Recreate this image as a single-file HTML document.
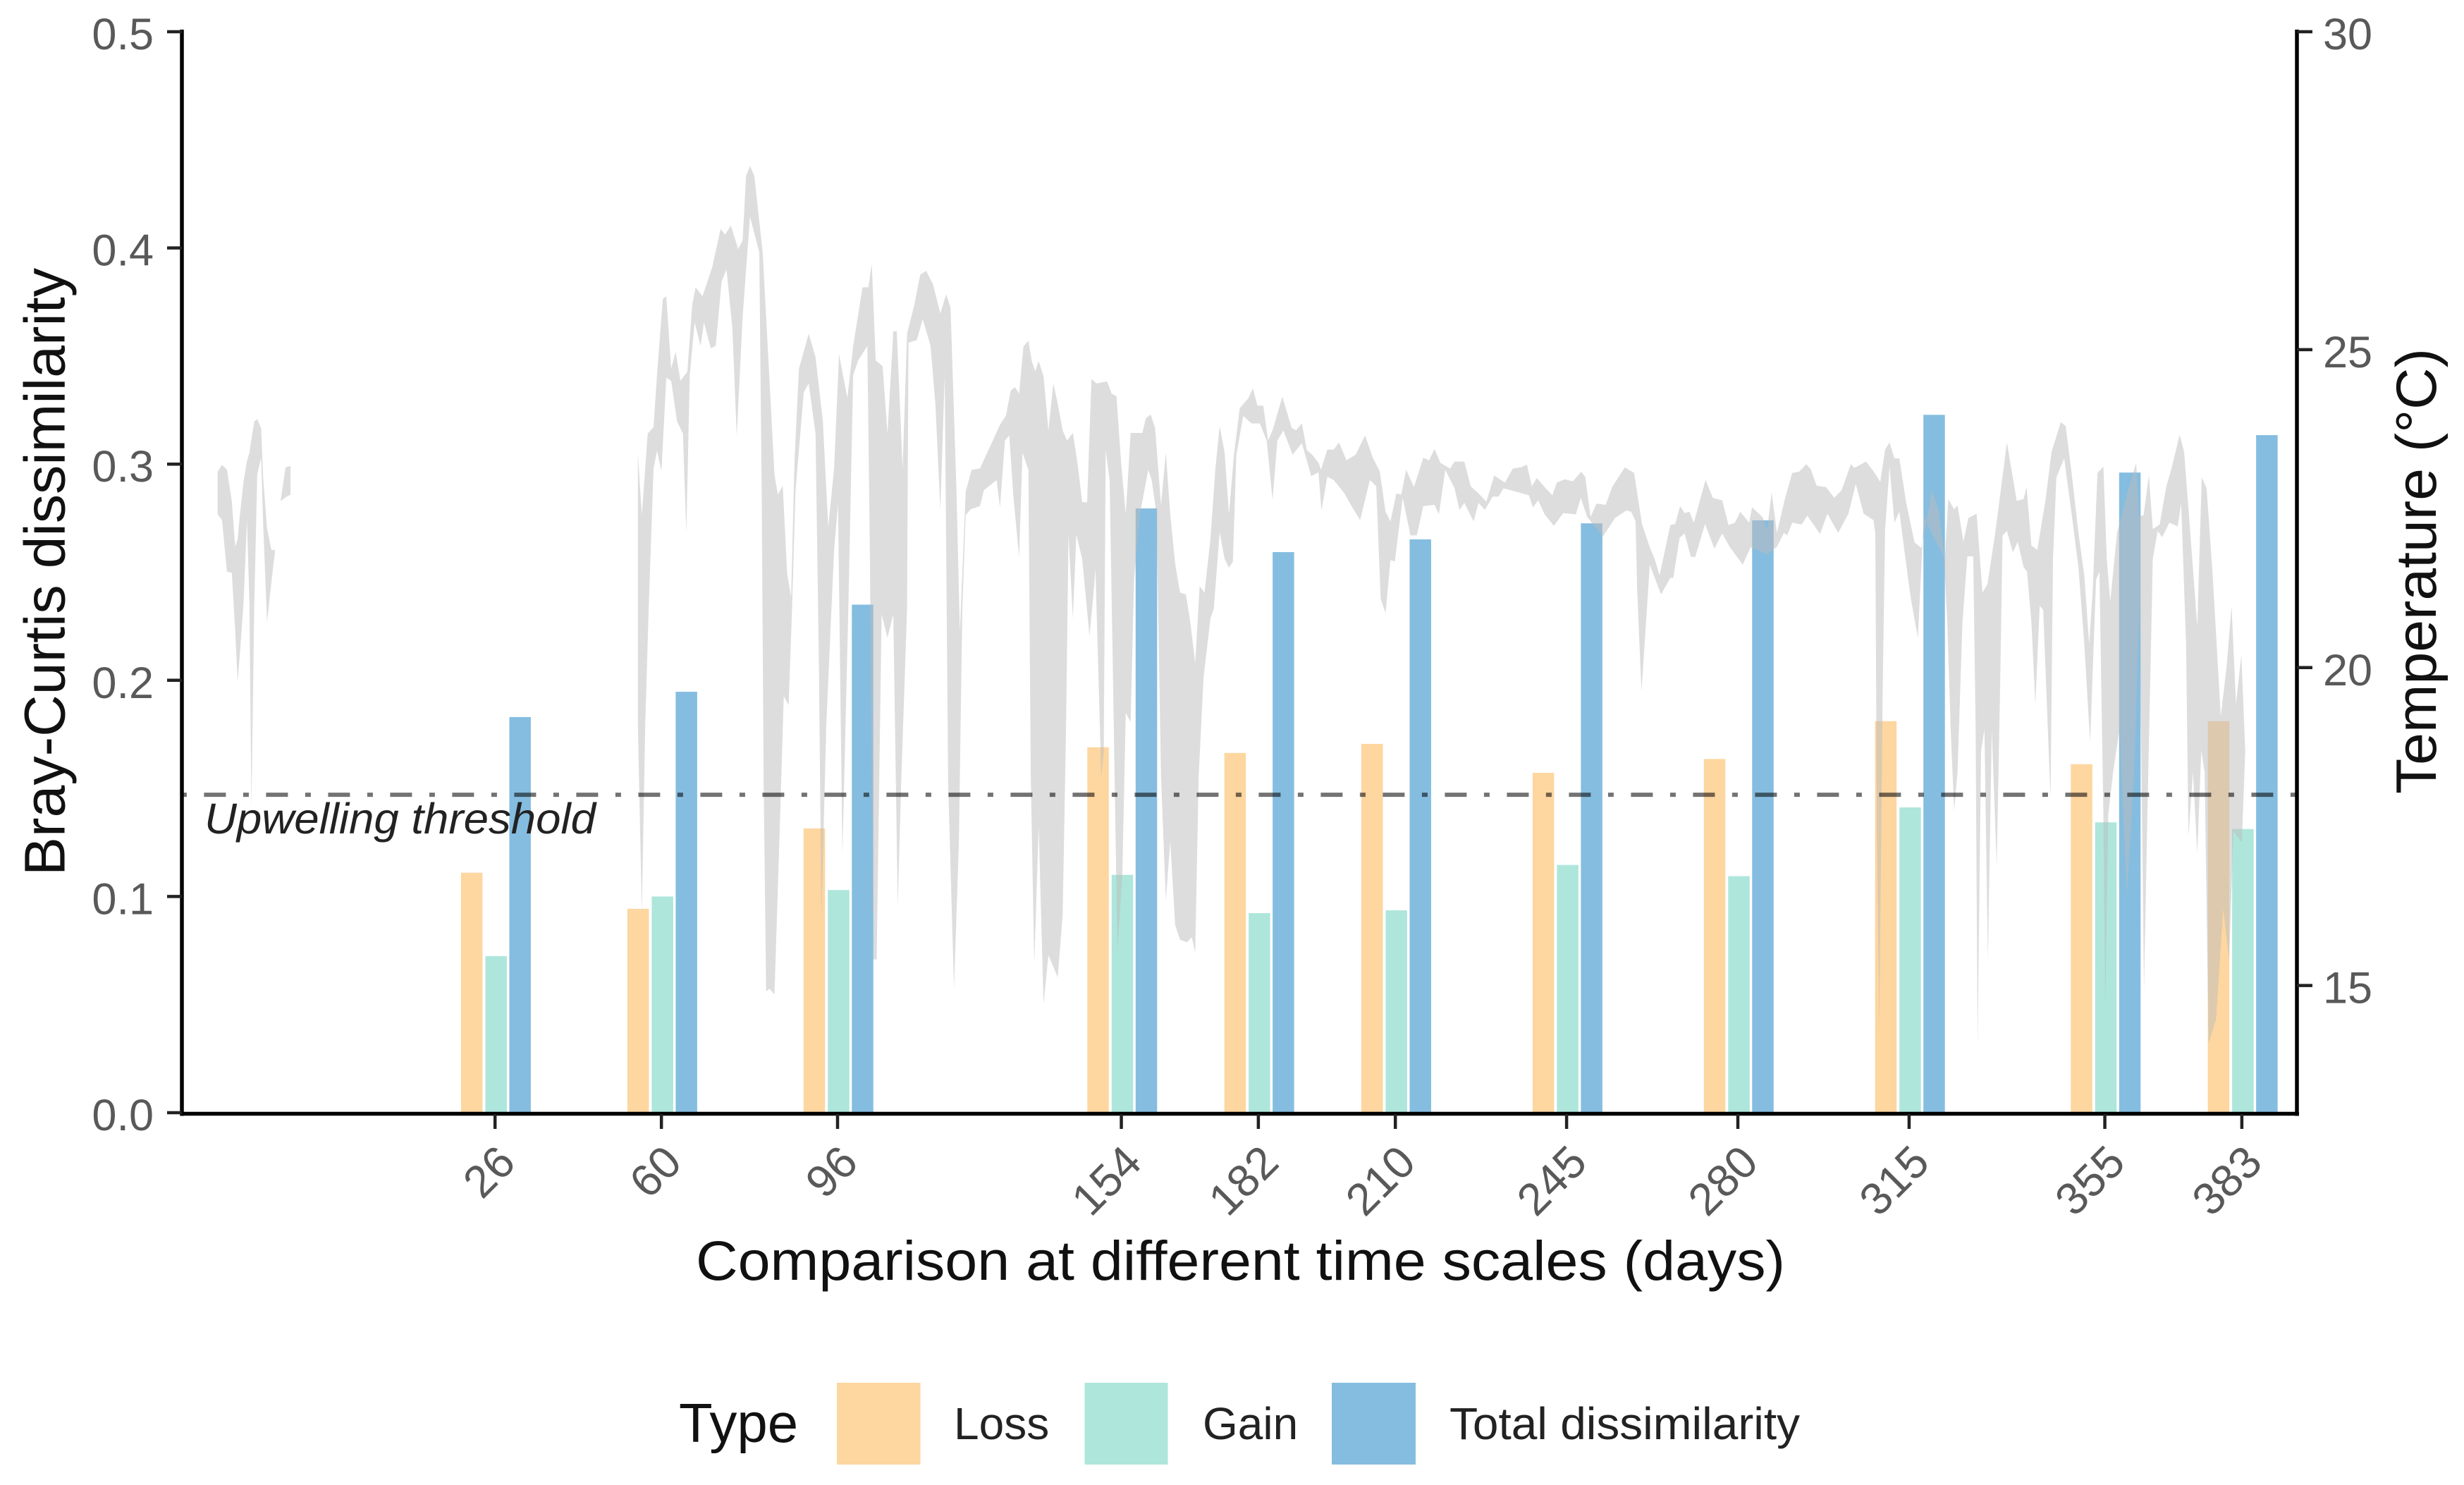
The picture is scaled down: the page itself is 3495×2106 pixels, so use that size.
<!DOCTYPE html>
<html lang="en">
<head>
<meta charset="utf-8">
<title>Bray-Curtis dissimilarity and temperature</title>
<style>
html,body{margin:0;padding:0;background:#fff;width:3495px;height:2106px;overflow:hidden}
svg{display:block;font-family:"Liberation Sans",Arial,sans-serif}
</style>
</head>
<body>
<svg id="chart" xmlns="http://www.w3.org/2000/svg" width="3495" height="2106" viewBox="0 0 3495 2106">
  <rect x="0" y="0" width="3495" height="2106" fill="#ffffff"/>
  <g id="bars"></g>
  <g id="ribbon"></g>
  <g id="threshold"></g>
  <g id="axes"></g>

  <text transform="translate(91.5,1242) rotate(-90)" font-size="82" fill="#111" textLength="862" lengthAdjust="spacingAndGlyphs">Bray-Curtis dissimilarity</text>
  <text transform="translate(3455,1126) rotate(-90)" font-size="81" fill="#111" textLength="632" lengthAdjust="spacingAndGlyphs">Temperature (°C)</text>
  <text x="987" y="1815" font-size="79" fill="#111" textLength="1545" lengthAdjust="spacingAndGlyphs">Comparison at different time scales (days)</text>
  <text x="290" y="1182" font-size="61" font-style="italic" fill="#222" textLength="555" lengthAdjust="spacingAndGlyphs">Upwelling threshold</text>

  <g>
    <text x="963" y="2045" font-size="78" fill="#111">Type</text>
    <rect x="1187" y="1961" width="118.5" height="116" fill="#fdd6a0"/>
    <text x="1353" y="2041" font-size="64" fill="#222">Loss</text>
    <rect x="1538.5" y="1961" width="118" height="116" fill="#aee6db"/>
    <text x="1706" y="2041" font-size="64" fill="#222">Gain</text>
    <rect x="1889" y="1961" width="119" height="116" fill="#85bde0"/>
    <text x="2056" y="2041" font-size="64" fill="#222" textLength="497" lengthAdjust="spacingAndGlyphs">Total dissimilarity</text>
  </g>
</svg>

<script>
// ---- bar data ----
const timeScales = [26,60,96,154,182,210,245,280,315,355,383];
const lossValues = [0.111,0.0943,0.1315,0.169,0.1664,0.1706,0.1572,0.1636,0.1811,0.1612,0.1811];
const gainValues = [0.0724,0.100,0.103,0.110,0.0923,0.0936,0.1146,0.1094,0.1412,0.1343,0.1312];
const totalValues = [0.183,0.1947,0.235,0.2795,0.2593,0.2652,0.2726,0.274,0.3228,0.2961,0.3134];

// ---- axis labels ----
const leftTicks = [0,0.1,0.2,0.3,0.4,0.5];
const leftTickLabels = ["0.0","0.1","0.2","0.3","0.4","0.5"];
const rightTicks = [15,20,25,30];
const rightTickLabels = ["15","20","25","30"];
const thresholdTemp = [18];

// ---- temperature ribbon: first fragment ----
const earlyHighDays = [-30.7,-29.8,-28.8,-27.8,-27.1,-26.6,-26.2,-25.4,-24.7,-24.2,-23.8,-23.2,-22.6,-21.8,-21.4,-20.6,-19.7,-19.0];
const earlyHighTemps = [23.08,23.19,23.11,22.62,21.90,22.02,22.36,22.92,23.25,23.38,23.59,23.87,23.91,23.76,23.00,22.19,21.85,21.85];
const earlyLowTemps = [22.41,22.32,21.51,21.49,20.58,19.78,20.16,21.01,22.32,21.01,17.78,21.01,23.04,23.30,22.28,20.71,21.35,21.81];

// ---- temperature ribbon: small fragment ----
const smallDays = [-17.8,-16.8,-15.8];
const smallHighTemps = [22.64,23.15,23.17];
const smallLowTemps = [22.62,22.68,22.72];

// ---- temperature ribbon: main stretch, upper edge ----
const highDaysA = [55.2,56.0,57.2,58.4,59.1,60.3,61.0,62.0,62.9,63.9,65.3,66.3,67.0,68.4,70.4,72.1,73.0,74.2,75.7,76.6,77.3,78.1,79.0,80.7,81.4,83.1,83.8,84.8,85.7,86.5,87.2,88.1,90.1,91.5,93.0,94.1,95.3,96.3,98.0,99.2,101.1,102.3,103.0,103.8,105.2,106.2,107.4,108.1,109.3,110.2,111.7,112.9,114.1,115.5,117.0,118.2,119.1,120.3,121.0,122.2,123.4,125.1];
const highTempsA = [23.36,22.40,23.68,23.78,24.60,25.80,25.84,24.70,24.97,24.51,24.65,25.71,25.98,25.84,26.30,26.90,26.81,26.95,26.58,26.72,27.73,27.89,27.73,26.53,25.52,23.04,22.72,22.86,21.48,21.11,23.23,24.70,25.25,24.88,23.87,22.21,23.13,24.93,24.24,25.06,25.98,25.98,26.35,24.83,24.74,23.68,25.29,25.29,23.13,25.25,25.71,26.18,26.24,26.03,25.57,25.87,25.66,22.77,20.56,22.77,23.11,23.13];
const highDaysB = [126.1,127.5,129.2,130.4,131.4,132.3,133.1,134.0,135.0,135.7,136.4,137.1,138.1,139.1,140.1,141.0,142.0,142.9,144.1,145.1,146.0,147.0,147.9,148.9,151.1,152.0,153.0,154.0,154.9,155.9,157.1,158.3,159.0,160.0,160.9,162.1,163.1,164.0,165.0,166.0,167.2,168.1,169.1,170.0,171.0,172.2,173.2,174.1,175.1,176.0,177.0,178.2,179.9,180.9,181.8,183.0,184.0,184.9,186.9,188.8,189.7,190.9,191.9,193.1,194.3];
const highTempsB = [23.30,23.53,23.82,23.96,24.36,24.41,24.31,25.05,25.14,24.82,24.66,24.82,24.58,23.73,24.47,24.15,23.73,23.57,23.69,23.18,22.60,22.60,24.54,24.47,24.50,24.31,24.27,23.18,22.41,23.69,23.69,23.69,23.92,23.98,23.77,22.56,23.38,22.41,21.63,21.18,21.15,20.71,20.07,21.28,21.18,22.02,23.11,23.80,23.38,22.41,23.34,24.08,24.23,24.39,24.12,24.12,23.57,23.73,24.26,23.77,23.73,23.84,23.42,23.34,23.22];
const highDaysC = [194.8,196.1,197.4,198.5,200.0,201.9,203.8,205.4,206.8,208.0,209.0,210.2,211.2,212.2,213.8,215.7,216.9,218.0,219.2,221.2,222.1,224.1,225.4,227.0,228.6,230.2,232.4,234.0,235.6,236.9,237.9,238.9,240.5,242.1,243.0,244.6,246.3,248.0,248.8,249.9,251.1,253.0,254.3,256.9,258.8,260.4,262.0,263.0,264.0,266.2,267.2,268.2,269.1,270.1,271.0,273.4,274.9,276.8,278.1,279.4,280.5,282.3,282.9,285.0];
const highTempsC = [23.11,23.43,23.43,23.54,23.26,23.35,23.65,23.30,23.09,22.45,22.30,22.74,22.72,23.11,22.84,23.30,23.26,23.44,23.22,23.13,23.24,23.24,22.85,22.74,22.61,23.02,22.91,23.13,23.15,23.19,22.85,22.98,22.84,22.71,22.91,22.96,22.93,23.08,23.00,22.37,22.58,22.56,22.84,23.15,23.06,22.26,21.89,21.71,21.45,22.24,22.26,22.54,22.43,22.45,22.28,22.95,22.67,22.63,22.24,22.28,22.45,22.28,22.52,22.37];
const highDaysD = [286.0,286.9,288.0,289.6,291.1,292.5,294.0,294.9,296.1,298.0,299.7,301.2,303.1,303.8,306.2,307.7,309.1,310.1,311.0,312.0,313.0,314.4,316.1,317.5,319.7,321.1,322.3,323.0,324.2,324.9,326.1,327.1,328.8,330.0,331.0,332.6,335.0,337.0,338.4,339.0];
const highTempsD = [22.18,22.75,22.12,22.65,23.06,23.08,23.20,23.12,22.86,22.84,22.67,22.79,23.20,23.14,23.24,23.09,22.92,23.43,23.54,23.29,23.29,22.59,21.97,21.88,22.79,22.45,21.71,22.65,22.49,22.55,21.98,22.35,22.42,21.18,21.31,22.12,23.54,22.62,22.65,22.84];
const highDaysE = [340.0,341.2,342.9,344.1,346.0,347.0,348.2,349.6,350.8,351.8,352.5,353.5,354.7,355.4,356.1,357.5,359.5,361.4,362.0,362.9,364.0,364.8,366.2,367.6,368.6,370.3,371.2,372.2,373.9,374.8,375.8,377.0,378.7,379.9,380.9,381.8,382.9,383.7];
const highTempsE = [21.92,21.85,22.65,23.39,23.86,23.80,23.06,22.12,21.45,20.37,21.18,23.06,23.16,21.71,21.04,22.12,22.72,23.22,22.39,22.39,23.02,22.18,22.25,22.86,23.12,23.66,23.39,22.39,20.64,22.99,22.82,21.51,19.23,20.03,20.97,19.43,20.20,18.69];

// ---- temperature ribbon: main stretch, lower edge ----
const lowDaysA = [55.2,56.0,56.7,57.4,58.4,59.1,60.0,61.0,62.0,63.2,64.4,65.1,65.8,66.8,68.0,68.7,70.1,71.1,72.3,73.3,74.5,75.4,76.6,78.1,80.0,80.5,80.9,81.4,82.1,83.1,84.1,85.0,86.0,86.7,87.4,89.1,90.1,91.5,92.2,92.7,93.7,95.3,96.1,97.0,98.2,99.2,100.2,102.1,102.6,103.3,104.0,105.0,106.2,107.4,108.3,109.0,110.2,110.5,112.2,113.4,115.0,116.0,117.0,117.9,118.6,119.8,120.8,121.5,122.2,123.2,125.1];
const lowTempsA = [19.09,16.15,19.09,20.93,23.13,23.41,23.09,24.56,24.51,23.87,23.68,22.12,24.60,25.43,25.06,25.43,25.02,25.06,26.07,26.26,25.34,23.64,25.52,27.09,26.53,22.77,18.17,14.91,14.95,14.86,17.25,19.55,19.41,20.93,22.77,24.33,24.47,23.68,20.01,16.06,19.09,21.85,22.58,17.07,20.93,24.60,24.83,25.06,21.85,15.41,15.41,20.84,20.47,20.84,16.24,18.17,20.93,25.11,25.15,25.48,25.06,24.14,22.49,24.60,18.17,14.95,17.25,20.93,22.40,22.49,22.54];
const lowDaysB = [125.9,128.5,129.2,130.2,131.1,131.9,133.1,133.8,135.0,135.5,136.2,137.1,138.1,139.1,141.0,142.0,142.7,143.2,144.1,144.8,146.0,147.5,148.2,148.7,149.9,150.4,150.8,151.6,152.3,153.2,154.2,154.9,155.9,156.6,157.8,159.5,160.2,161.2,162.1,163.1,164.0,165.0,166.0,167.4,168.4,169.1,169.8,170.8,172.2,172.9,174.1,175.1,176.0,176.8,177.5,178.9,180.6,182.3,183.7,184.9,185.9,187.1,189.0,190.9,192.8,194.3];
const lowTempsB = [22.79,22.95,22.52,23.57,23.65,22.72,21.74,23.38,23.11,18.28,15.33,17.51,14.71,15.48,15.13,16.11,19.06,22.09,20.77,22.09,21.71,20.50,21.08,21.55,18.28,18.67,23.42,22.95,19.84,15.56,16.73,19.29,19.14,21.39,22.41,23.11,22.95,22.41,18.28,16.34,17.27,15.95,15.72,15.68,15.76,15.52,18.28,19.84,20.77,20.93,22.13,21.71,21.57,21.67,23.34,23.96,23.84,23.84,23.57,22.64,23.57,23.73,23.35,23.53,23.01,23.07];
const lowDaysC = [194.9,196.1,197.4,199.6,200.9,202.8,204.8,206.1,207.0,208.0,209.0,209.9,211.5,213.1,214.4,215.7,218.0,218.9,220.2,222.1,223.1,224.1,226.0,227.0,228.3,229.9,231.1,232.1,235.0,237.3,238.1,239.2,240.5,242.4,244.3,246.9,247.9,249.2,252.4,254.9,257.2,258.2,259.1,259.4,260.3,262.0,264.3,266.2,266.8,268.1,269.1,270.4,271.3,273.3,275.2,276.8,278.4,281.0,282.6];
const lowTempsC = [22.47,23.00,22.95,22.74,22.56,22.32,22.95,22.85,21.08,20.86,21.69,21.67,22.67,22.08,22.08,22.54,22.56,22.41,23.11,22.82,22.48,22.59,22.30,22.59,22.48,22.69,22.69,22.82,22.76,22.71,22.52,22.63,22.41,22.23,22.43,22.41,22.67,22.37,22.06,22.35,22.47,22.45,22.30,21.26,19.62,21.62,21.15,21.41,21.41,22.04,22.11,21.74,21.74,22.26,21.87,22.11,21.89,21.62,21.89];
const lowDaysD = [285.1,286.0,288.0,289.4,290.1,291.1,293.0,294.2,296.8,298.3,300.5,302.6,304.1,305.7,307.7,308.1,308.4,308.9,309.6,310.1,311.0,312.0,313.0,313.9,315.3,316.8,318.0,319.2,322.1,322.8,323.5,324.2,324.9,325.9,326.9,328.1,328.6,329.0,329.7,330.4,331.1,331.9,332.9,333.6,334.1,335.0,336.2,337.2,338.4];
const lowTempsD = [21.81,21.78,21.90,22.12,22.08,22.28,22.25,22.39,22.10,22.42,22.12,22.42,22.89,22.42,22.32,22.12,17.68,14.33,19.70,22.18,23.16,22.28,22.45,21.92,21.11,20.47,22.39,22.18,21.75,20.71,19.03,17.75,18.36,20.71,21.75,21.75,19.03,14.06,18.69,19.03,15.40,19.03,16.88,19.70,22.08,22.15,21.81,21.98,21.58];
const lowDaysE = [339.1,340.0,340.8,341.7,342.4,343.9,344.4,345.1,346.7,348.2,349.6,350.8,352.0,353.2,353.9,354.7,355.1,355.7,356.7,358.0,359.5,361.0,362.1,363.0,363.7,364.8,365.8,366.7,368.2,369.9,370.6,371.6,372.1,373.0,373.9,374.7,375.4,376.2,377.7,379.2,380.4,381.3,383.0,383.7];
const lowTempsE = [21.51,20.71,19.43,20.97,20.91,17.95,21.71,22.99,23.29,22.42,21.58,20.37,18.83,21.38,21.51,17.68,14.66,17.68,18.36,19.03,16.41,18.36,21.04,14.93,17.68,21.71,22.15,22.05,22.28,22.22,22.59,20.37,17.35,18.36,17.08,18.69,18.36,14.09,14.46,16.21,15.40,17.42,17.25,18.69];

// ---- axis functions ----
const NS = "http://www.w3.org/2000/svg";
const plotLeft = 258, plotRight = 3259, plotTop = 45, plotBottom = 1578;
const dayMin = -38, dayMax = 394.4, bcMin = 0, bcMax = 0.5, tempMin = 13, tempMax = 30;
function xDay(d){ return plotLeft + (d - dayMin) * (plotRight - plotLeft) / (dayMax - dayMin); }
function yBC(v){ return plotBottom - (v - bcMin) * (plotBottom - plotTop) / (bcMax - bcMin); }
function yTemp(t){ return plotBottom - (t - tempMin) * (plotBottom - plotTop) / (tempMax - tempMin); }
function make(tag, attrs, parent){
  const el = document.createElementNS(NS, tag);
  for (const k in attrs) el.setAttribute(k, attrs[k]);
  parent.appendChild(el);
  return el;
}

// ---- bars ----
const barsLayer = document.getElementById("bars");
const barSeries = [
  {key:"loss", vals:lossValues, color:"#fdd6a0", off:-33},
  {key:"gain", vals:gainValues, color:"#aee6db", off:1.5},
  {key:"total", vals:totalValues, color:"#85bde0", off:35.5}
];
barSeries.forEach(function(s){
  s.vals.forEach(function(v, i){
    const top = yBC(v);
    const r = make("rect", {x: xDay(timeScales[i]) + s.off - 15.25, y: top, width: 30.5, height: plotBottom - top, fill: s.color}, barsLayer);
    
    
  });
});

// ---- ribbon ----
const ribbonLayer = document.getElementById("ribbon");
function ribbonPath(hd, ht, ld, lt){
  const pts = [];
  hd.forEach(function(d, i){ pts.push(xDay(d).toFixed(1) + "," + yTemp(ht[i]).toFixed(1)); });
  for (let i = ld.length - 1; i >= 0; i--) pts.push(xDay(ld[i]).toFixed(1) + "," + yTemp(lt[i]).toFixed(1));
  return "M" + pts.join("L") + "Z";
}
const ribbonEarly = make("path", {d: ribbonPath(earlyHighDays, earlyHighTemps, earlyHighDays, earlyLowTemps), fill:"#bbbbbb", "fill-opacity":"0.5"}, ribbonLayer);


const ribbonSmall = make("path", {d: ribbonPath(smallDays, smallHighTemps, smallDays, smallLowTemps), fill:"#bbbbbb", "fill-opacity":"0.5"}, ribbonLayer);


const mainHighDays = highDaysA.concat(highDaysB, highDaysC, highDaysD, highDaysE);
const mainHighTemps = highTempsA.concat(highTempsB, highTempsC, highTempsD, highTempsE);
const mainLowDays = lowDaysA.concat(lowDaysB, lowDaysC, lowDaysD, lowDaysE);
const mainLowTemps = lowTempsA.concat(lowTempsB, lowTempsC, lowTempsD, lowTempsE);
const ribbonMain = make("path", {d: ribbonPath(mainHighDays, mainHighTemps, mainLowDays, mainLowTemps), fill:"#bbbbbb", "fill-opacity":"0.5"}, ribbonLayer);



// ---- threshold ----
const thresholdLayer = document.getElementById("threshold");
const thresholdLine = make("line", {x1: plotLeft, x2: plotRight, y1: yTemp(thresholdTemp[0]), y2: yTemp(thresholdTemp[0]), stroke:"#000", "stroke-opacity":"0.55", "stroke-width":"6", "stroke-dasharray":"31 24.5 8 24.5", "stroke-dashoffset":"56.6"}, thresholdLayer);



// ---- axes ----
const axesLayer = document.getElementById("axes");
const leftSpine = make("line", {x1:258, x2:258, y1:42, y2:1582.5, stroke:"#000", "stroke-width":"5.5"}, axesLayer);


const rightSpine = make("line", {x1:3258, x2:3258, y1:42, y2:1582.5, stroke:"#000", "stroke-width":"5.5"}, axesLayer);


const bottomSpine = make("line", {x1:256, x2:3261, y1:1579.5, y2:1579.5, stroke:"#000", "stroke-width":"5.5"}, axesLayer);



leftTicks.forEach(function(v, i){
  const y = yBC(v);
  const t = make("line", {x1:237, x2:258, y1:y, y2:y, stroke:"#222", "stroke-width":"4.5"}, axesLayer);
  
  
  const l = make("text", {x:218, y:y + 25, "font-size":63, fill:"#595959", "text-anchor":"end"}, axesLayer);
  l.textContent = leftTickLabels[i];
  
  
});
rightTicks.forEach(function(v, i){
  const y = yTemp(v);
  const t = make("line", {x1:3258, x2:3280, y1:y, y2:y, stroke:"#222", "stroke-width":"4.5"}, axesLayer);
  
  
  const l = make("text", {x:3295, y:y + 25, "font-size":63, fill:"#595959"}, axesLayer);
  l.textContent = rightTickLabels[i];
  
  
});
timeScales.forEach(function(d){
  const x = xDay(d);
  const t = make("line", {x1:x, x2:x, y1:1580, y2:1601, stroke:"#222", "stroke-width":"4.5"}, axesLayer);
  
  
  const l = make("text", {transform:"translate(" + (x + 32) + ",1652) rotate(-45)", "font-size":64, fill:"#595959", "text-anchor":"end"}, axesLayer);
  l.textContent = String(d);
  
  
});
</script>
</body>
</html>
